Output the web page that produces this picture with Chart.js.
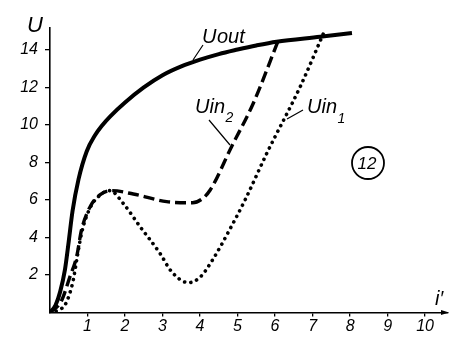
<!DOCTYPE html>
<html><head><meta charset="utf-8">
<script src="https://cdn.jsdelivr.net/npm/chart.js@4/dist/chart.umd.min.js"></script>
<style>html,body{margin:0;padding:0;background:#fff;}canvas{display:block;}</style>
</head><body>
<canvas id="c" width="459" height="337"></canvas>
<script>
// ---- data ----
const xTicks = [1, 2, 3, 4, 5, 6, 7, 8, 9, 10];
const yTicks = [2, 4, 6, 8, 10, 12, 14];

const uOutX = [0, 0.15, 0.27, 0.4, 0.5, 0.6, 0.76, 0.98, 1.2, 1.4, 1.6, 2.0, 2.5, 3.0, 3.5, 4.0, 4.5, 5.0, 5.5, 6.04, 7.2, 8.05];
const uOutY = [0, 0.4, 1.1, 2.3, 3.8, 5.4, 7.1, 8.6, 9.45, 10.0, 10.45, 11.2, 12.0, 12.65, 13.12, 13.48, 13.78, 14.02, 14.24, 14.44, 14.7, 14.9];

const uIn2X = [0, 0.3, 0.53, 0.71, 0.84, 1.07, 1.33, 1.64, 2.22, 3.11, 3.8, 4.05, 4.27, 4.84, 5.42, 6.09];
const uIn2Y = [0, 0.6, 1.9, 2.98, 4.4, 5.64, 6.27, 6.5, 6.32, 5.91, 5.85, 6.05, 6.53, 8.84, 11.16, 14.53];

const uIn1X = [0, 0.25, 0.4, 0.53, 0.62, 0.72, 0.85, 1.05, 1.3, 1.6, 1.95, 2.4, 2.93, 3.24, 3.69, 4.0, 4.36, 4.76, 5.2, 5.78, 6.67, 7.33];
const uIn1Y = [0, 0.15, 0.4, 1.04, 1.73, 2.9, 4.3, 5.5, 6.2, 6.5, 5.82, 4.58, 3.16, 2.18, 1.59, 1.88, 2.89, 4.31, 6.0, 8.49, 12.04, 15.07];

const toPts = (xs, ys) => xs.map((x, i) => ({ x: x, y: ys[i] }));
const FONT = '"Liberation Sans", Arial, sans-serif';

const annot = {
  id: 'annot',
  afterDraw(chart) {
    const ctx = chart.ctx;
    const a = chart.chartArea;
    ctx.save();
    ctx.fillStyle = '#000';
    ctx.strokeStyle = '#000';
    // arrow at end of x axis
    ctx.beginPath();
    ctx.moveTo(a.right + 1, a.bottom);
    ctx.lineTo(a.right - 7, a.bottom - 2.6);
    ctx.lineTo(a.right - 7, a.bottom + 2.6);
    ctx.closePath();
    ctx.fill();
    // axis titles
    ctx.textBaseline = 'alphabetic';
    ctx.textAlign = 'left';
    ctx.font = 'italic 22px ' + FONT;
    ctx.fillText('U', 27, 32);
    ctx.font = 'italic 20px ' + FONT;
    ctx.fillText('i\u2032', 435, 305);
    // series labels
    function lab(main, sub, x, yb, subDy) {
      ctx.font = 'italic 20px ' + FONT;
      ctx.fillText(main, x, yb);
      const w = ctx.measureText(main).width;
      if (sub) {
        ctx.font = 'italic 14px ' + FONT;
        ctx.fillText(sub, x + w + 0.5, yb + subDy);
      }
    }
    ctx.font = 'italic 20px ' + FONT;
    ctx.fillText('U', 202, 43);
    const wU = ctx.measureText('U').width;
    ctx.fillText('out', 202 + wU + 0.5, 43);
    lab('Uin', '2', 195, 113, 9);
    lab('Uin', '1', 307, 113, 10);
    // leader lines
    ctx.lineWidth = 1.2;
    ctx.beginPath();
    ctx.moveTo(193, 60); ctx.lineTo(203, 45);
    ctx.moveTo(209, 120); ctx.lineTo(230, 145);
    ctx.moveTo(303, 110); ctx.lineTo(287, 119);
    ctx.stroke();
    // circled number
    ctx.lineWidth = 1.8;
    ctx.beginPath();
    ctx.arc(368, 163, 16, 0, Math.PI * 2);
    ctx.stroke();
    ctx.font = 'italic 17px ' + FONT;
    ctx.textAlign = 'center';
    ctx.textBaseline = 'middle';
    ctx.fillText('12', 367, 164);
    ctx.restore();
  }
};

new Chart(document.getElementById('c'), {
  type: 'line',
  data: {
    datasets: [
      { label: 'Uin1', data: toPts(uIn1X, uIn1Y), borderColor: '#000', borderWidth: 3.6,
        borderDash: [0.1, 6.2], borderCapStyle: 'round', pointRadius: 0, cubicInterpolationMode: 'monotone', fill: false },
      { label: 'Uin2', data: toPts(uIn2X, uIn2Y), borderColor: '#000', borderWidth: 3.4,
        borderDash: [11, 5], borderCapStyle: 'butt', pointRadius: 0, cubicInterpolationMode: 'monotone', fill: false },
      { label: 'Uout', data: toPts(uOutX, uOutY), borderColor: '#000', borderWidth: 4,
        pointRadius: 0, cubicInterpolationMode: 'monotone', fill: false }
    ]
  },
  options: {
    responsive: false,
    animation: false,
    layout: { padding: { left: 0, top: 28, right: 11, bottom: 0 } },
    plugins: { legend: { display: false }, tooltip: { enabled: false } },
    scales: {
      x: {
        type: 'linear', min: 0, max: 10.61,
        afterBuildTicks: s => { s.ticks = xTicks.map(v => ({ value: v })); },
        afterFit: s => { s.height = 24.5; },
        border: { display: true, color: '#000', width: 1.6 },
        grid: { drawOnChartArea: false, drawTicks: true, tickLength: 4, color: '#000', lineWidth: 1.3 },
        ticks: { color: '#000', padding: 0, maxRotation: 0, autoSkip: false,
          font: { family: FONT, size: 16, style: 'italic' } }
      },
      y: {
        type: 'linear', min: 0, max: 15.17,
        afterBuildTicks: s => { s.ticks = yTicks.map(v => ({ value: v })); },
        afterFit: s => { s.width = 50; },
        border: { display: true, color: '#000', width: 1.6 },
        grid: { drawOnChartArea: false, drawTicks: true, tickLength: 5, color: '#000', lineWidth: 1.3 },
        ticks: { color: '#000', padding: 7, autoSkip: false,
          font: { family: FONT, size: 16, style: 'italic' } }
      }
    }
  },
  plugins: [annot]
});
</script>
</body></html>
